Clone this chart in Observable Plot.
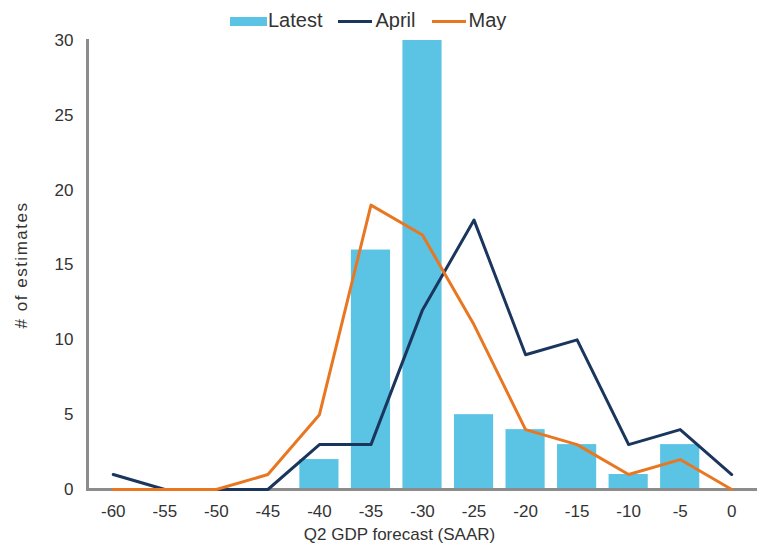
<!DOCTYPE html>
<html>
<head>
<meta charset="utf-8">
<script src="https://cdn.jsdelivr.net/npm/d3@7"></script>
<script src="https://cdn.jsdelivr.net/npm/@observablehq/plot@0.6"></script>
<style>
  html, body { margin: 0; padding: 0; background: #fff; }
  #wrap { position: relative; width: 760px; height: 550px; font-family: "Liberation Sans", Arial, sans-serif; color: #333; }
  #legend { position: absolute; left: 230px; top: 8px; height: 24px; display: flex; align-items: center; font-size: 20px; color: #333; }
  #legend .item { display: flex; align-items: center; margin-right: 16px; }
  #legend .sw-bar { width: 37px; height: 9px; margin-right: 1px; margin-top: 3px; }
  #legend .sw-line { width: 34px; height: 3px; margin-right: 3px; margin-top: 2px; }
  #chart { position: absolute; left: 0; top: 30px; }
</style>
</head>
<body>
<div id="wrap">
  <div id="legend"></div>
  <div id="chart"></div>
</div>
<script>
// Q2 GDP forecast buckets (SAAR, %)
const categories = ["-60", "-55", "-50", "-45", "-40", "-35", "-30", "-25", "-20", "-15", "-10", "-5", "0"];
// Number of estimates per bucket
const latest = [0, 0, 0, 0, 2, 16, 30, 5, 4, 3, 1, 3, 0];
const april  = [1, 0, 0, 0, 3, 3, 12, 18, 9, 10, 3, 4, 1];
const may    = [0, 0, 0, 1, 5, 19, 17, 11, 4, 3, 1, 2, 0];
const yTicks = [0, 5, 10, 15, 20, 25, 30];

const colors = { Latest: "#5bc4e5", April: "#1b365d", May: "#e87722" };

const barData = categories.map((c, i) => ({ bucket: c, count: latest[i] })).filter(d => d.count > 0);
const aprilData = categories.map((c, i) => ({ bucket: c, count: april[i] }));
const mayData = categories.map((c, i) => ({ bucket: c, count: may[i] }));

// Legend
const legend = document.getElementById("legend");
[["Latest", "bar"], ["April", "line"], ["May", "line"]].forEach(([name, kind]) => {
  const item = document.createElement("div");
  item.className = "item";
  const sw = document.createElement("span");
  sw.className = kind === "bar" ? "sw-bar" : "sw-line";
  sw.style.background = colors[name];
  const lab = document.createElement("span");
  lab.textContent = name;
  item.append(sw, lab);
  legend.append(item);
});

const chart = Plot.plot({
  width: 760,
  height: 520,
  marginLeft: 87,
  marginRight: 3,
  marginTop: 10,
  marginBottom: 61,
  style: { fontFamily: "Liberation Sans, Arial, sans-serif", fontSize: "17px", color: "#333", background: "#fff" },
  x: { domain: categories, paddingInner: 0.24, paddingOuter: 0.12, round: false },
  y: { domain: [0, 30] },
  marks: [
    Plot.barY(barData, { x: "bucket", y: "count", fill: colors.Latest }),
    Plot.ruleY([0], { stroke: "#8c8c8c", strokeWidth: 3 }),
    Plot.frame({ anchor: "left", stroke: "#8c8c8c", strokeWidth: 3 }),
    Plot.line(aprilData, { x: "bucket", y: "count", stroke: colors.April, strokeWidth: 3 }),
    Plot.line(mayData, { x: "bucket", y: "count", stroke: colors.May, strokeWidth: 3 }),
    Plot.axisY({ ticks: yTicks, tickSize: 0, tickPadding: 14, fontSize: 17, label: null }),
    Plot.axisX({ tickSize: 0, tickPadding: 15, fontSize: 17, label: null }),
    Plot.text(["# of estimates"], { frameAnchor: "left", textAnchor: "middle", rotate: -90, dx: -66, fontSize: 17, fill: "#333", className: "ytitle" }),
    Plot.text(["Q2 GDP forecast (SAAR)"], { frameAnchor: "bottom", dy: 50, dx: -23, fontSize: 17, fill: "#333" })
  ]
});
// the vertical axis title is set a little wider-spaced
d3.select(chart).selectAll(".ytitle text").style("letter-spacing", "1.5px");
document.getElementById("chart").append(chart);
</script>
</body>
</html>
